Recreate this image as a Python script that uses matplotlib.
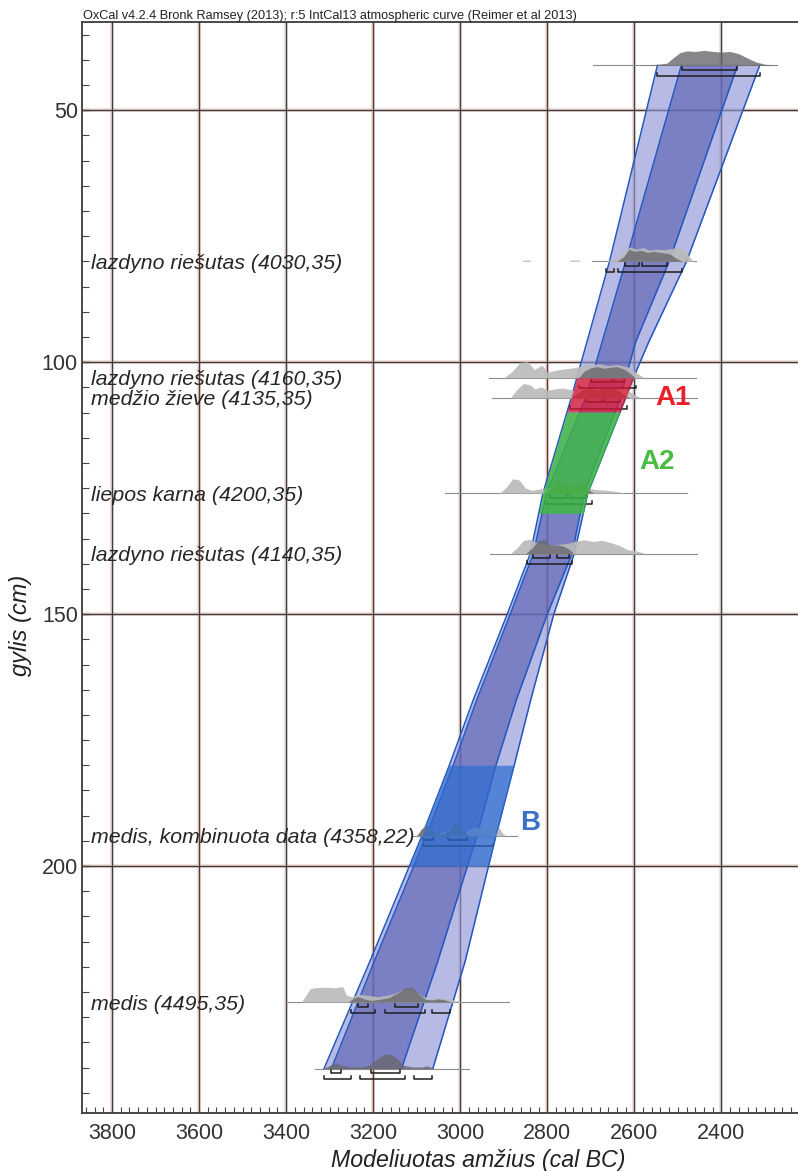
import matplotlib
matplotlib.use("Agg")
import matplotlib.pyplot as plt
import numpy as np

plt.rcParams["font.family"] = ["Liberation Sans", "DejaVu Sans"]

# --- age-depth envelope (cal BC) at the model knots, depth in cm ---
env_depth = [41.1, 80, 96, 103.1, 107.1, 126, 138, 150, 167, 180, 194, 219, 240.2]
out_old = [2547, 2657, 2709, 2732, 2745, 2810, 2839, 2892, 2970, 3025, 3088, 3208, 3313]
in_old = [2492, 2620, 2674, 2698, 2712, 2802, 2832, 2885, 2962, 3016, 3078, 3198, 3296]
in_young = [2363, 2520, 2597, 2620, 2632, 2715, 2743, 2800, 2871, 2918, 2962, 3052, 3135]
out_young = [2312, 2480, 2567, 2602, 2620, 2707, 2738, 2785, 2838, 2876, 2918, 2989, 3063]

# highlighted depth zones
zone_names = ["A1", "A2", "B"]
zone_top = [103.1, 109.9, 180.0]
zone_bottom = [109.9, 130.0, 200.0]
zone_label_x = [2512, 2547, 2839]
zone_label_y = [107.1, 119.8, 191.5]

# dated samples
sample_depth = [41.1, 80.0, 103.1, 107.1, 126.0, 138.0, 194.0, 227.0, 240.2]
sample_label = [None,
                "lazdyno riešutas (4030,35)",
                "lazdyno riešutas (4160,35)",
                "medžio žieve (4135,35)",
                "liepos karna (4200,35)",
                "lazdyno riešutas (4140,35)",
                "medis, kombinuota data (4358,22)",
                "medis (4495,35)",
                None]
sample_line = [(2695, 2272), (2697, 2459), (2935, 2459), (2927, 2455), (3035, 2478),
               (2931, 2455), (3108, 2870), (3400, 2889), (3334, 2981)]

# unmodelled (light) distributions: years, heights (cm)
prior_yr = [
    [],
    [2858, 2855, 2840, 2837, 2750, 2747, 2728, 2725,
     2665, 2640, 2625, 2610, 2595, 2580, 2565, 2550, 2530, 2510, 2495, 2480, 2465],
    [2900, 2880, 2862, 2845, 2830, 2812, 2800, 2790, 2770, 2740, 2710, 2680, 2660, 2640, 2616, 2597, 2578],
    [2885, 2870, 2855, 2840, 2828, 2815, 2800, 2785, 2765, 2740, 2715, 2690, 2665, 2640, 2615, 2600, 2585],
    [2910, 2895, 2880, 2865, 2850, 2835, 2815, 2800, 2780, 2760, 2740, 2720, 2700, 2680, 2660, 2640, 2620],
    [2885, 2870, 2855, 2840, 2825, 2810, 2790, 2770, 2750, 2735, 2715, 2695, 2675, 2655, 2635, 2615, 2595, 2575],
    [3100, 3078, 3055, 3030, 3008, 2990, 2975, 2960, 2945, 2930, 2920, 2912, 2903, 2895],
    [3365, 3345, 3335, 3310, 3290, 3270, 3262, 3250, 3230, 3210, 3190, 3170, 3150, 3130, 3110,
     3090, 3070, 3050, 3030, 3010, 2995],
    [],
]
prior_h = [
    [],
    [0, 0.25, 0.25, 0, 0, 0.25, 0.25, 0,
     0, 0.6, 2.0, 2.6, 2.2, 2.5, 2.0, 2.2, 2.1, 2.4, 2.5, 1.5, 0],
    [0, 1.2, 2.8, 2.9, 1.5, 2.3, 1.0, 1.2, 1.5, 1.8, 2.3, 2.5, 2.2, 2.4, 2.0, 1.0, 0],
    [0, 1.5, 2.6, 2.4, 1.6, 2.0, 1.4, 1.6, 1.8, 1.4, 1.6, 1.9, 2.0, 1.8, 1.4, 0.6, 0],
    [0, 1.0, 2.6, 2.4, 0.9, 0.5, 0.8, 1.0, 1.2, 1.0, 1.3, 1.0, 0.8, 0.6, 0.5, 0.3, 0],
    [0, 1.0, 2.4, 2.6, 2.0, 1.8, 1.6, 1.7, 1.9, 2.3, 2.5, 2.2, 2.4, 2.0, 1.5, 0.7, 0.5, 0],
    [0, 2.0, 0.3, 1.0, 2.3, 0.5, 1.4, 1.6, 1.5, 1.8, 0.5, 1.6, 0.5, 0],
    [0, 2.4, 2.6, 2.7, 2.6, 2.8, 1.3, 1.0, 1.4, 1.2, 1.0, 1.2, 1.6, 2.4, 2.4,
     1.2, 0.6, 0.8, 0.6, 0.3, 0],
    [],
]

# modelled (dark) distributions
post_yr = [
    [2590, 2550, 2525, 2510, 2495, 2480, 2460, 2440, 2420, 2400, 2380, 2360, 2340, 2320, 2300, 2275],
    [2640, 2625, 2612, 2600, 2585, 2570, 2555, 2540, 2520, 2505, 2490],
    [2728, 2715, 2700, 2685, 2670, 2655, 2640, 2625, 2610, 2598],
    [2745, 2730, 2715, 2700, 2685, 2670, 2655, 2640, 2625, 2612],
    [2805, 2795, 2785, 2775, 2765, 2755, 2745, 2735, 2725, 2715, 2705, 2693],
    [2850, 2835, 2820, 2808, 2795, 2780, 2765, 2750, 2740],
    [3100, 3090, 3078, 3066, 3055, 3040, 3025, 3015, 3005, 2995, 2985, 2975],
    [3258, 3245, 3235, 3222, 3205, 3185, 3165, 3145, 3128, 3110, 3095, 3080, 3065, 3050, 3035, 3020],
    [3315, 3300, 3285, 3270, 3250, 3230, 3210, 3190, 3175, 3160, 3145, 3130, 3110, 3090, 3075, 3060],
]
post_h = [
    [0, 0.15, 0.4, 1.4, 2.3, 2.6, 2.5, 2.7, 2.5, 2.4, 2.5, 2.1, 1.3, 0.6, 0.2, 0],
    [0, 0.8, 2.2, 1.8, 2.0, 1.6, 1.8, 1.6, 1.4, 0.6, 0],
    [0, 1.2, 1.8, 2.0, 1.7, 1.9, 2.0, 1.6, 0.8, 0],
    [0, 1.0, 1.6, 1.8, 1.5, 1.7, 1.8, 1.4, 0.7, 0],
    [0, 0.8, 2.0, 2.5, 1.8, 1.5, 1.4, 1.6, 2.0, 1.7, 0.6, 0],
    [0, 1.0, 2.4, 2.6, 1.6, 1.6, 1.4, 0.8, 0],
    [0, 1.2, 2.0, 1.2, 0.3, 0.3, 1.0, 2.2, 2.3, 1.0, 0.3, 0],
    [0, 0.7, 1.0, 0.6, 0.3, 0.5, 0.8, 1.6, 2.6, 2.7, 1.4, 0.5, 0.4, 0.6, 0.4, 0],
    [0, 0.6, 1.0, 0.6, 0.3, 0.3, 0.6, 1.8, 2.6, 2.6, 1.8, 0.6, 0.3, 0.3, 0.5, 0],
]

# highest posterior density ranges (68.2 % and 95.4 %)
hpd68 = [
    [(2490, 2363)],
    [(2622, 2590), (2582, 2524)],
    [(2700, 2651), (2647, 2624)],
    [(2712, 2674), (2670, 2632)],
    [(2793, 2755), (2747, 2712)],
    [(2832, 2793), (2778, 2751)],
    [(3085, 3062), (3027, 2985)],
    [(3234, 3211), (3150, 3096)],
    [(3296, 3273), (3204, 3139)],
]
hpd95 = [
    [(2547, 2312)],
    [(2665, 2646), (2637, 2491)],
    [(2728, 2597)],
    [(2747, 2617)],
    [(2805, 2697)],
    [(2847, 2743)],
    [(3085, 2924)],
    [(3250, 3196), (3173, 3081), (3066, 3023)],
    [(3313, 3252), (3231, 3127), (3106, 3066)],
]

x_major = [3800, 3600, 3400, 3200, 3000, 2800, 2600, 2400]
y_major = [50, 100, 150, 200]

fig = plt.figure(figsize=(7.98, 11.71), dpi=100)
ax = fig.add_axes([82 / 798, 58 / 1171, 716 / 798, 1091 / 1171])
ax.set_xlim(3869, 2224)
ax.set_ylim(249.0, 32.5)

# grid
grid_cols = ["#34434c", "#5a3a34", "#34434c", "#5a3a34", "#34434c", "#5a3a34", "#34434c", "#34434c"]
for xv, gc in zip(x_major, grid_cols):
    ax.axvline(xv, color="#f2d9d2", lw=2.6, zorder=0.5)
    ax.axvline(xv, color=gc, lw=1.0, zorder=0.6)
for yv in y_major:
    ax.axhline(yv, color="#f2d9d2", lw=2.6, zorder=0.5)
    ax.axhline(yv, color="#3b3b3e", lw=1.0, zorder=0.6)

# envelopes
edge = "#2458c0"
ax.fill_betweenx(env_depth, out_old, out_young, color="#8f96d6", alpha=0.65, lw=0, zorder=1)
ax.fill_betweenx(env_depth, in_old, in_young, color="#5459b0", alpha=0.6, lw=0, zorder=1.1)
for e in (out_old, in_old, in_young, out_young):
    ax.plot(e, env_depth, color=edge, lw=1.1, zorder=1.2)

# samples
hs = 1.1
for k, d in enumerate(sample_depth):
    x0, x1 = sample_line[k]
    ax.plot([x0, x1], [d, d], color="#8c8c8c", lw=0.8, zorder=2)
    if prior_yr[k]:
        ax.fill_between(prior_yr[k], d, d - hs * np.array(prior_h[k]), color="#bababa",
                        alpha=0.9, lw=0, zorder=2.1)
    ax.fill_between(post_yr[k], d, d - hs * np.array(post_h[k]), color="#68686e",
                    alpha=0.8, lw=0, zorder=2.2)
    for rows, off in ((hpd68[k], 0.9), (hpd95[k], 2.1)):
        for a, b in rows:
            yy = d + off
            ax.plot([a, a, b, b], [yy - 0.55, yy, yy, yy - 0.55],
                    color="#1e1e1e", lw=1.1, zorder=2.3)
    if sample_label[k]:
        ax.text(3848, d + 0.4, sample_label[k], fontsize=15.3, style="italic",
                color="#262626", ha="left", va="center", zorder=5)

# highlighted zones across the full envelope width
zone_cols = ["#e5152f", "#3dbb3d", "#2c6cd0"]
zone_alpha = [0.72, 0.8, 0.7]
zone_text = ["#e8202a", "#4cbb44", "#3a70c8"]
for n, top, bot, c, al, tc, lx, ly in zip(zone_names, zone_top, zone_bottom, zone_cols,
                                           zone_alpha, zone_text, zone_label_x, zone_label_y):
    dd = np.linspace(top, bot, 30)
    lo = np.interp(dd, env_depth, out_old)
    hi = np.interp(dd, env_depth, out_young)
    ax.fill_betweenx(dd, lo, hi, color=c, alpha=al, lw=0, zorder=3)
    ax.text(lx, ly, n, color=tc, fontsize=20, fontweight="bold",
            ha="center", va="center", zorder=5)

# axes, ticks
ax.set_xticks(x_major)
ax.set_xticks(np.arange(3860, 2220, -20), minor=True)
ax.set_yticks(y_major)
ax.set_yticks(np.arange(35, 250, 5), minor=True)
ax.tick_params(axis="x", which="major", direction="in", length=0, labelsize=15.5,
               labelcolor="#333333", pad=7)
ax.tick_params(axis="x", which="minor", direction="in", length=4, width=0.8, color="#444444")
ax.tick_params(axis="y", which="major", direction="in", length=5, width=1.0, color="#444444",
               labelsize=15.5, labelcolor="#333333", pad=3)
ax.tick_params(axis="y", which="minor", direction="in", length=5, width=0.8, color="#444444")
for s in ("left", "top", "bottom"):
    ax.spines[s].set_color("#3a3a3a")
    ax.spines[s].set_linewidth(1.3)
ax.spines["right"].set_visible(False)

ax.set_xlabel("Modeliuotas amžius (cal BC)", fontsize=16.7, style="italic", color="#222222")
ax.xaxis.set_label_coords(0.554, -0.033)
ax.set_ylabel("gylis (cm)", fontsize=17, style="italic", color="#222222")
ax.yaxis.set_label_coords(-0.07, 0.447)

fig.text(83 / 798, 1 - 19 / 1171,
         "OxCal v4.2.4 Bronk Ramsey (2013); r:5 IntCal13 atmospheric curve (Reimer et al 2013)",
         fontsize=9.2, color="#222222", ha="left", va="baseline")

fig.savefig("out.png", dpi=100)
